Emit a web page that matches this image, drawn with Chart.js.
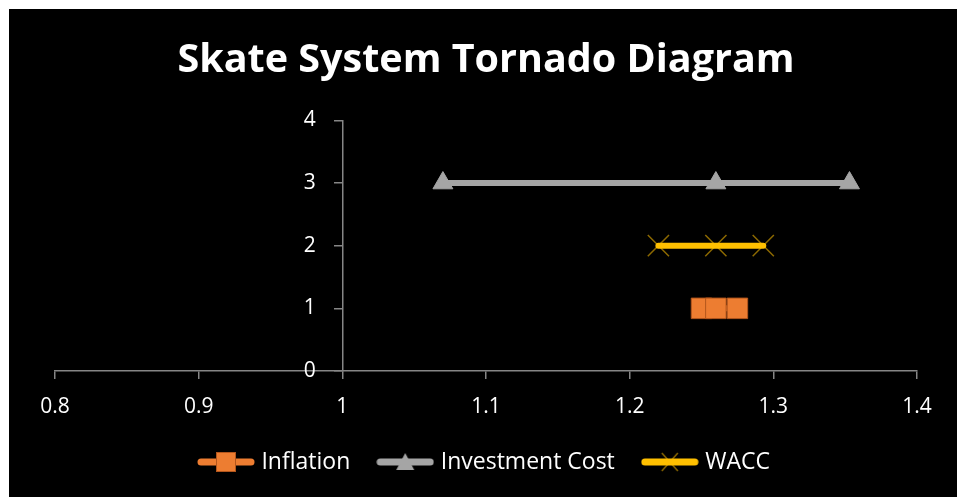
<!DOCTYPE html>
<html>
<head>
<meta charset="utf-8">
<script src="https://cdn.jsdelivr.net/npm/chart.js@4.4.1/dist/chart.umd.min.js"></script>
<style>
  html, body { margin: 0; padding: 0; background: #fff; }
  #wrap { position: absolute; left: 9px; top: 9px; width: 948px; height: 488px; background: #000; }
</style>
</head>
<body>
<div id="wrap"><canvas id="tornado" width="948" height="488"></canvas></div>
<script>
// data
const categories = ['Inflation', 'Investment Cost', 'WACC'];
const rowPos = [1, 3, 2];
const lowValues = [1.25, 1.07, 1.22];
const baseValues = [1.26, 1.26, 1.26];
const highValues = [1.275, 1.353, 1.293];
const xTicks = [0.8, 0.9, 1, 1.1, 1.2, 1.3, 1.4];
const yTicks = [0, 1, 2, 3, 4];

const colors = ['#ED7D31', '#A5A5A5', '#FFC000'];
const markers = ['rect', 'triangle', 'crossRot'];
const FONT = "'Open Sans', sans-serif";
const axisGrey = '#868686';

Chart.defaults.font.family = FONT;
Chart.defaults.color = '#fff';

// little line+marker pictures for the legend
function legendIcon(color, marker) {
    const c = document.createElement('canvas');
    c.width = 58; c.height = 24;
    const g = c.getContext('2d');
    g.strokeStyle = color; g.lineWidth = 7; g.lineCap = 'round';
    g.beginPath(); g.moveTo(4, 12); g.lineTo(54, 12); g.stroke();
    if (marker === 'rect') {
        g.fillStyle = color; g.fillRect(19, 2, 20, 20);
        g.strokeStyle = '#b3561c'; g.lineWidth = 1; g.strokeRect(19.5, 2.5, 19, 19);
    } else if (marker === 'triangle') {
        g.fillStyle = color;
        g.beginPath(); g.moveTo(29, 3); g.lineTo(38, 20); g.lineTo(20, 20); g.closePath(); g.fill();
    } else {
        g.strokeStyle = 'rgba(255,192,0,0.55)'; g.lineWidth = 1.5; g.lineCap = 'butt';
        g.beginPath(); g.moveTo(21, 3); g.lineTo(37, 21); g.moveTo(37, 3); g.lineTo(21, 21); g.stroke();
    }
    return c;
}
const icons = categories.map((c, i) => legendIcon(colors[i], markers[i]));

const datasets = categories.map((name, i) => ({
    label: name,
    data: [
        {x: lowValues[i], y: rowPos[i]},
        {x: baseValues[i], y: rowPos[i]},
        {x: highValues[i], y: rowPos[i]}
    ],
    showLine: true,
    borderColor: colors[i],
    borderWidth: 6,
    borderCapStyle: 'round',
    pointStyle: markers[i],
    pointRadius: [14.5, 11.5, 15][i],
    pointBackgroundColor: colors[i],
    pointBorderColor: ['#b3561c', colors[1], 'rgba(255,192,0,0.55)'][i],
    pointBorderWidth: [1, 1, 1.5][i]
}));

new Chart(document.getElementById('tornado'), {
    type: 'scatter',
    data: { datasets },
    options: {
        responsive: false,
        animation: false,
        events: [],
        layout: { padding: { left: 46, right: 40, top: 0, bottom: 13.5 } },
        plugins: {
            title: {
                display: true,
                text: 'Skate System Tornado Diagram',
                color: '#fff',
                font: { size: 39.5, weight: 'bold' },
                padding: { top: 28, bottom: 36 }
            },
            legend: {
                position: 'bottom',
                labels: {
                    usePointStyle: true,
                    pointStyleWidth: 48,
                    padding: 31,
                    color: '#fff',
                    font: { size: 23 },
                    generateLabels: () => categories.map((name, i) => ({
                        text: name,
                        pointStyle: icons[i],
                        fontColor: '#fff',
                        datasetIndex: i,
                        hidden: false,
                        lineWidth: 0,
                        strokeStyle: 'transparent',
                        fillStyle: 'transparent'
                    }))
                }
            },
            tooltip: { enabled: false }
        },
        scales: {
            x: {
                type: 'linear',
                position: 'bottom',
                min: 0.8,
                max: 1.4,
                afterBuildTicks: s => { s.ticks = xTicks.map(v => ({ value: v })); },
                afterFit: s => { s.height = 48.5; },
                ticks: { color: '#fff', font: { size: 21 }, padding: 15, callback: v => String(v) },
                grid: { drawOnChartArea: false, tickLength: 8, color: axisGrey, lineWidth: 1.5 },
                border: { color: axisGrey, width: 1.5 }
            },
            y: {
                type: 'linear',
                position: { x: 1 },
                min: 0,
                max: 4,
                afterBuildTicks: s => { s.ticks = yTicks.map(v => ({ value: v })); },
                // labels sit right-aligned on the axis line, so pad them with spaces
                ticks: { color: '#fff', font: { size: 21 }, callback: v => String(v) + '\u2003 ' },
                grid: { drawOnChartArea: false, tickLength: 8, color: axisGrey, lineWidth: 1.5 },
                border: { color: axisGrey, width: 1.5 }
            }
        }
    }
});
</script>
</body>
</html>
